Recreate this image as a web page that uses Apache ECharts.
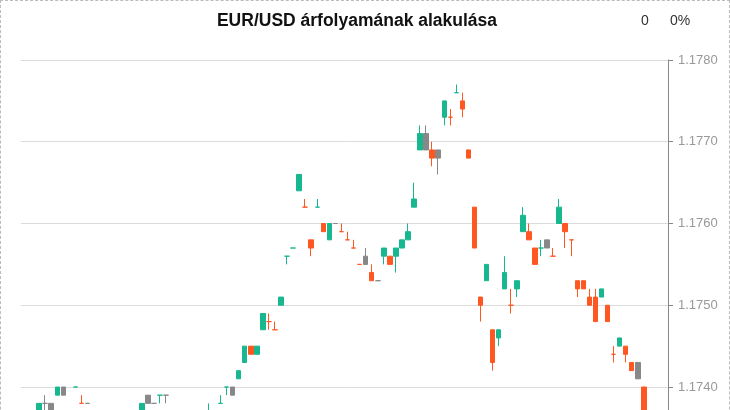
<!DOCTYPE html>
<html>
<head>
<meta charset="utf-8">
<title>EUR/USD</title>
<script src="https://cdn.jsdelivr.net/npm/echarts@6/dist/echarts.min.js"></script>
<style>
  html, body { margin: 0; padding: 0; overflow: hidden; background: #fff; }
  #main { position: absolute; left: 0; top: 0; width: 730px; height: 530px; }
  #frame { position: absolute; left: 0; top: 0; width: 730px; height: 530px;
           box-sizing: border-box; border: 1px dashed #bbb; pointer-events: none; }
</style>
</head>
<body>
<div id="main"></div>
<div id="frame"></div>
<script>
// candle values, one slot per category (null = no candle)
const opens = [
  null, null, null, 1.1737, 1.1738, 1.1736, 1.1740, 1.1740, null, 1.1740,
  1.1738, 1.1738, null, null, null, null, null, null, null, null,
  1.1736, 1.1739, 1.1738, 1.1739, 1.1739, null, null, null, null, null,
  null, 1.1736, null, 1.1738, 1.1740, 1.1739, 1.1741, 1.1743, 1.1745, 1.1744,
  1.1747, 1.1748, 1.1747, 1.1750, 1.1756, 1.1757, 1.1764, 1.1762, 1.1758, 1.1762,
  1.1760, 1.1758, 1.1760, 1.1759, 1.1758, 1.1757, 1.1755, 1.1756, 1.1754, 1.1753,
  1.1756, 1.1756, 1.1756, 1.1757, 1.1758, 1.1762, 1.1769, 1.1769, 1.1769, 1.1769,
  1.1773, 1.1773, 1.1776, 1.1775, 1.1769, 1.1762, 1.1751, 1.1753, 1.1747, 1.1746,
  1.1752, 1.1750, 1.1752, 1.1759, 1.1759, 1.1757, 1.1757, 1.1758, 1.1756, 1.1760,
  1.1760, 1.1758, 1.1752, 1.1753, 1.1751, 1.1751, 1.1751, 1.1750, 1.1744, 1.1745,
  1.1745, 1.1742, 1.1741, 1.1740, null, null, null, null
];
const closes = [
  null, null, null, 1.1738, 1.1738, 1.1738, 1.1739, 1.1739, null, 1.1740,
  1.1738, 1.1738, null, null, null, null, null, null, null, null,
  1.1738, 1.1738, 1.1738, 1.1739, 1.1739, null, null, null, null, null,
  null, 1.1737, null, 1.1738, 1.1740, 1.1740, 1.1742, 1.1745, 1.1744, 1.1745,
  1.1749, 1.1748, 1.1747, 1.1751, 1.1756, 1.1757, 1.1766, 1.1762, 1.1757, 1.1762,
  1.1759, 1.1760, 1.1760, 1.1759, 1.1758, 1.1757, 1.1755, 1.1755, 1.1753, 1.1753,
  1.1757, 1.1755, 1.1757, 1.1758, 1.1759, 1.1763, 1.1771, 1.1771, 1.1768, 1.1768,
  1.1775, 1.1773, 1.1776, 1.1774, 1.1768, 1.1757, 1.1750, 1.1755, 1.1743, 1.1747,
  1.1754, 1.1750, 1.1753, 1.1761, 1.1758, 1.1755, 1.1757, 1.1757, 1.1756, 1.1762,
  1.1759, 1.1758, 1.1753, 1.1752, 1.1750, 1.1748, 1.1752, 1.1748, 1.1744, 1.1746,
  1.1744, 1.1743, 1.1743, 1.1736, null, null, null, null
];
const lows = [
  null, null, null, 1.1736, 1.1736, 1.1736, 1.1739, 1.1739, null, 1.1740,
  1.1738, 1.1738, null, null, null, null, null, null, null, null,
  1.1736, 1.1738, 1.1738, 1.1738, 1.1738, null, null, null, null, null,
  null, 1.1736, null, 1.1738, 1.1739, 1.1739, 1.1741, 1.1743, 1.1744, 1.1744,
  1.1747, 1.1747, 1.1747, 1.1750, 1.1755, 1.1757, 1.1764, 1.1762, 1.1756, 1.1762,
  1.1759, 1.1758, 1.1760, 1.1759, 1.1758, 1.1757, 1.1755, 1.1755, 1.1753, 1.1753,
  1.1755, 1.1755, 1.1754, 1.1757, 1.1758, 1.1762, 1.1769, 1.1769, 1.1767, 1.1766,
  1.1772, 1.1772, 1.1776, 1.1773, 1.1768, 1.1757, 1.1748, 1.1753, 1.1742, 1.1745,
  1.1752, 1.1749, 1.1751, 1.1759, 1.1758, 1.1755, 1.1756, 1.1757, 1.1756, 1.1760,
  1.1757, 1.1756, 1.1751, 1.1752, 1.1750, 1.1748, 1.1751, 1.1748, 1.1743, 1.1745,
  1.1743, 1.1742, 1.1741, 1.1735, null, null, null, null
];
const highs = [
  null, null, null, 1.1738, 1.1739, 1.1738, 1.1740, 1.1740, null, 1.1740,
  1.1739, 1.1738, null, null, null, null, null, null, null, null,
  1.1738, 1.1739, 1.1738, 1.1739, 1.1739, null, null, null, null, null,
  null, 1.1738, null, 1.1739, 1.1740, 1.1740, 1.1742, 1.1745, 1.1745, 1.1745,
  1.1749, 1.1749, 1.1748, 1.1751, 1.1756, 1.1757, 1.1766, 1.1763, 1.1758, 1.1763,
  1.1760, 1.1760, 1.1760, 1.1760, 1.1759, 1.1758, 1.1755, 1.1757, 1.1755, 1.1753,
  1.1757, 1.1756, 1.1757, 1.1758, 1.1760, 1.1765, 1.1772, 1.1772, 1.1770, 1.1769,
  1.1775, 1.1774, 1.1777, 1.1776, 1.1769, 1.1762, 1.1751, 1.1755, 1.1747, 1.1747,
  1.1756, 1.1752, 1.1753, 1.1762, 1.1760, 1.1757, 1.1758, 1.1758, 1.1757, 1.1763,
  1.1760, 1.1758, 1.1753, 1.1753, 1.1752, 1.1752, 1.1752, 1.1750, 1.1745, 1.1746,
  1.1745, 1.1743, 1.1743, 1.1740, null, null, null, null
];
const yTicks = { min: 1.173, max: 1.178, step: 0.001 };
const titleText = 'EUR/USD árfolyamának alakulása';
const changeAbs = '0';
const changePct = '0%';

const UP = '#17b890', DOWN = '#ff5722', FLAT = '#888888';
const categories = opens.map((_, i) => String(i));

// colour: close vs previous close (grey when equal); no previous -> vs open
const candles = opens.map((o, i) => {
  if (o === null) return '-';
  const c = closes[i];
  const prev = i > 0 ? closes[i - 1] : null;
  let col;
  if (prev === null) col = c >= o ? UP : DOWN;
  else col = c > prev ? UP : (c < prev ? DOWN : FLAT);
  return {
    value: [o, c, lows[i], highs[i]],
    itemStyle: { color: col, color0: col, borderColor: col, borderColor0: col }
  };
});

const chart = echarts.init(document.getElementById('main'));
chart.setOption({
  animation: false,
  grid: { left: 21, right: 62, top: 60, bottom: 61.25 },
  xAxis: {
    type: 'category',
    data: categories,
    boundaryGap: false,
    axisLine: { show: false },
    axisTick: { show: false },
    axisLabel: { show: false },
    splitLine: { show: false }
  },
  yAxis: {
    type: 'value',
    position: 'right',
    min: yTicks.min,
    max: yTicks.max,
    interval: yTicks.step,
    scale: true,
    axisLine: { show: true, lineStyle: { color: '#888' } },
    axisTick: { show: true, length: 5, lineStyle: { color: '#888' } },
    axisLabel: {
      color: '#999', fontSize: 13, margin: 10,
      fontFamily: 'Liberation Sans, Arial, sans-serif',
      formatter: v => v.toFixed(4)
    },
    splitLine: { show: true, lineStyle: { color: '#dcdcdc' } }
  },
  graphic: [
    { type: 'text', x: 357, y: 21, style: {
        text: titleText, textAlign: 'center', textVerticalAlign: 'middle',
        font: 'bold 17.5px "Liberation Sans", Arial, sans-serif', fill: '#111' } },
    { type: 'text', x: 645, y: 21, style: {
        text: changeAbs, textAlign: 'center', textVerticalAlign: 'middle',
        font: '14px "Liberation Sans", Arial, sans-serif', fill: '#333' } },
    { type: 'text', x: 680, y: 21, style: {
        text: changePct, textAlign: 'center', textVerticalAlign: 'middle',
        font: '14px "Liberation Sans", Arial, sans-serif', fill: '#333' } }
  ],
  series: [{
    type: 'candlestick',
    data: candles,
    barWidth: 5,
    itemStyle: { borderWidth: 1 }
  }]
});
</script>
</body>
</html>
